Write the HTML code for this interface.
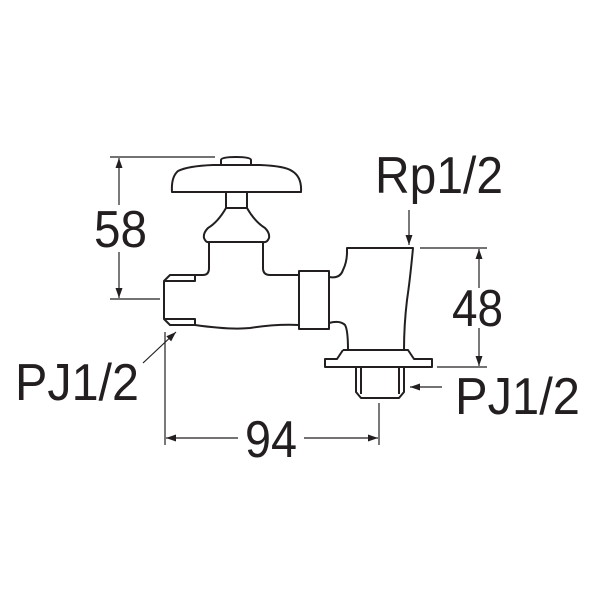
<!DOCTYPE html>
<html><head><style>html,body{margin:0;padding:0;background:#fff}svg{display:block}</style></head>
<body>
<svg width="600" height="600" viewBox="0 0 600 600" xmlns="http://www.w3.org/2000/svg">
<defs>
<marker id="a" viewBox="0 0 10 10" refX="10" refY="5" markerWidth="10" markerHeight="10" markerUnits="userSpaceOnUse" orient="auto-start-reverse"><path d="M0,1.5 L10,5 L0,8.5 z" fill="#231f20"/></marker>
</defs>
<g fill="none" stroke="#231f20" stroke-width="2" stroke-linejoin="round">
<path d="M221,165 L221,160 Q221,157 236,157 Q251,157 251,160 L251,165"/>
<path d="M172,192 L301,192 Q302,177 292,171 Q285,166 260,165 L213,165 Q188,166 178,171 Q171,177 172,192 Z"/>
<rect x="226" y="192" width="21" height="16"/>
<path d="M226,208 Q218,222 208,228 Q203,233 204,238 Q206,243 209,242 L209,268 Q209,275 203,275"/>
<path d="M247,208 Q255,222 265,228 Q270,233 269,238 Q267,243 263,242 L263,268 Q263,275 270,275 L299,275"/>
<path d="M209,242 L263,242"/>
<path d="M203,275 L170,275 L164,281 L164,319 L170,325 L195,325"/>
<path d="M164,281 L195,281 L195,275"/>
<path d="M164,319 L195,319 L195,325"/>
<path d="M195,325 Q230,330 250,328 Q275,324 299,325"/>
<rect x="299" y="271" width="30" height="58"/>
<path d="M329,277 Q340,279 343,270 Q347,262 347,252 L347,248 L413,248 Q410,280 407,300 Q404,325 404,350"/>
<path d="M329,323 Q340,320 345,325 Q348,330 348,350"/>
<path d="M348,350 L404,350"/>
<path d="M343,350 L337,359 L325,359 L325,367 L432,367 L432,359 L414,359 L408,350 L343,350"/>
<path d="M356,367 L356,392 L361,398 L399,398 L404,392 L404,367"/>
<path d="M361,367 L361,394 M399,367 L399,394"/>
</g>
<g stroke="#231f20" stroke-width="1.2" fill="none">
<line x1="110" y1="157" x2="215" y2="157"/>
<line x1="110" y1="299" x2="160" y2="299"/>
<line x1="119" y1="158" x2="119" y2="205" marker-start="url(#a)"/>
<line x1="119" y1="252" x2="119" y2="298" marker-end="url(#a)"/>
<line x1="420" y1="248" x2="487" y2="248"/>
<line x1="437" y1="367" x2="487" y2="367"/>
<line x1="479" y1="249" x2="479" y2="288" marker-start="url(#a)"/>
<line x1="479" y1="328" x2="479" y2="366" marker-end="url(#a)"/>
<line x1="409" y1="210" x2="409" y2="245" marker-end="url(#a)"/>
<line x1="143" y1="363" x2="176" y2="332" marker-end="url(#a)"/>
<line x1="442" y1="387" x2="410" y2="387" marker-end="url(#a)"/>
<line x1="165" y1="332" x2="165" y2="445"/>
<line x1="379" y1="403" x2="379" y2="445"/>
<line x1="166" y1="438" x2="238" y2="438" marker-start="url(#a)"/>
<line x1="304" y1="438" x2="378" y2="438" marker-end="url(#a)"/>
</g>
<g fill="#231f20" font-family="Liberation Sans, sans-serif" font-size="52">
<text x="94" y="247" textLength="53" lengthAdjust="spacingAndGlyphs">58</text>
<text x="452" y="326" textLength="51" lengthAdjust="spacingAndGlyphs">48</text>
<text x="245" y="457" textLength="52" lengthAdjust="spacingAndGlyphs">94</text>
<text x="375" y="193" textLength="128" lengthAdjust="spacingAndGlyphs">Rp1/2</text>
<text x="15" y="400" textLength="124" lengthAdjust="spacingAndGlyphs">PJ1/2</text>
<text x="455" y="414" textLength="125" lengthAdjust="spacingAndGlyphs">PJ1/2</text>
</g>
</svg>
</body></html>
